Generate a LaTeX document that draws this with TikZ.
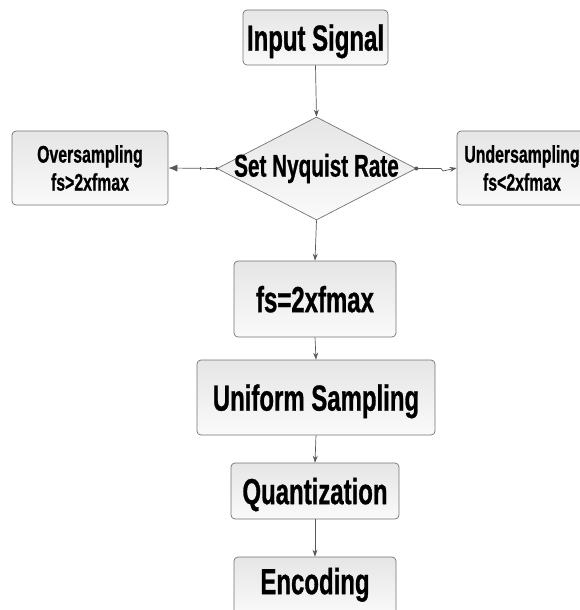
\documentclass[tikz,border=0pt]{standalone}
\usepackage{fontspec}
\newfontfamily\cond{Liberation Sans}[FakeStretch=0.66, FakeBold=0.8]
\usetikzlibrary{shapes.geometric,arrows.meta,calc}
\begin{document}
\begin{tikzpicture}[x=1pt,y=-1pt,
  box/.style={draw=black!55, line width=0.7pt, rounded corners=4pt,
    top color=black!10, bottom color=black!2, inner sep=0pt, align=center},
  big/.style={font=\cond\bfseries\fontsize{36.3}{38}\selectfont, text depth=0pt},
  small/.style={font=\cond\bfseries\fontsize{24}{28}\selectfont},
  dia/.style={shape=diamond, draw=black!55, line width=0.7pt,
    top color=black!10, bottom color=black!2, inner sep=0pt,
    font=\cond\bfseries\fontsize{31.4}{33}\selectfont},
  conn/.style={draw=black!65, line width=0.7pt, -{Stealth[length=7pt,width=5pt]}},
  dotc/.style={fill=black!65, circle, inner sep=0pt, minimum size=4pt}
]
\useasboundingbox (0,0) rectangle (579,610);
\node[box, big, minimum width=145pt, minimum height=55pt] (in) at (315.5,37.5) {Input Signal};
\node[dia, minimum width=199pt, minimum height=103pt] (d) at (316.5,168.5) {\makebox[0pt]{Set Nyquist Rate}};
\node[box, small, minimum width=156pt, minimum height=74pt] (o) at (90,168) {Oversampling\\fs>2xfmax};
\node[box, small, minimum width=130pt, minimum height=74pt] (u) at (522,168) {Undersampling\\fs<2xfmax};
\node[box, big, minimum width=162pt, minimum height=76pt] (fs) at (315,299) {fs=2xfmax};
\node[box, big, minimum width=238pt, minimum height=75pt] (us) at (316,397.5) {Uniform Sampling};
\node[box, big, minimum width=168pt, minimum height=56pt] (q) at (315,491) {Quantization};
\node[box, big, minimum width=162pt, minimum height=58pt, text depth=10pt] (e) at (315,586) {Encoding};

\draw[conn] (in.south) -- (d.north);
\draw[conn] (d.south) -- (fs.north);
\draw[conn] (fs.south) -- (us.north);
\draw[conn] (us.south) -- (q.north);
\draw[conn] (q.south) -- (e.north);
\draw[conn, -{Latex[length=9pt,width=7pt]}] (d.west) -- (o.east);
\node[dotc, minimum size=3.5pt] (dl) at (d.west) {};
\coordinate (tk) at ($(d.west)!0.33!(o.east)$);
\draw[draw=black!65, line width=0.7pt] ([yshift=-1.5pt]tk) -- ([yshift=1.5pt]tk);
\coordinate (jog) at (443,168.5);
\draw[conn] (d.east) -- ([xshift=-2pt]jog) -- ([yshift=-2.5pt]jog) -- (u.west);
\node[dotc] (dr) at (d.east) {};
\end{tikzpicture}
\end{document}
